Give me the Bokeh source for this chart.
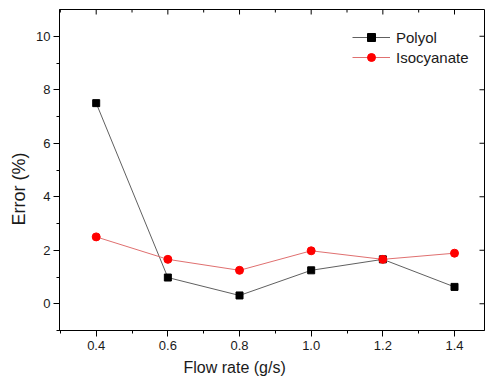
import math
from bokeh.plotting import figure
from bokeh.models import Range1d, FixedTicker, Legend, Title, PrintfTickFormatter
from bokeh.embed import file_html
from bokeh.resources import INLINE

flow_rate = [0.4, 0.6, 0.8, 1.0, 1.2, 1.4]
polyol = [7.5, 0.98, 0.31, 1.25, 1.66, 0.63]
isocyanate = [2.50, 1.66, 1.25, 1.98, 1.66, 1.89]

x_major = [0.4, 0.6, 0.8, 1.0, 1.2, 1.4]
x_minor = [0.3, 0.5, 0.7, 0.9, 1.1, 1.3]
y_major = [0, 2, 4, 6, 8, 10]
y_minor = [-1, 1, 3, 5, 7, 9]

X0, X1 = 0.2976, 1.4837
Y0, Y1 = -1, 11

FONT = "Liberation Sans"
TXT = "#1a1a1a"

p = figure(frame_width=425, frame_height=321, output_backend="svg", toolbar_location=None,
           x_range=Range1d(X0, X1), y_range=Range1d(Y0, Y1),
           min_border_left=59, min_border_top=9, min_border_right=1, min_border_bottom=49)
p.grid.visible = False
p.outline_line_color = "black"
p.outline_line_width = 1
p.background_fill_color = "white"
p.border_fill_color = "white"

p.xaxis.ticker = FixedTicker(ticks=x_major, minor_ticks=x_minor)
p.yaxis.ticker = FixedTicker(ticks=y_major, minor_ticks=y_minor)
p.xaxis.formatter = PrintfTickFormatter(format="%.1f")
p.yaxis.formatter = PrintfTickFormatter(format="%d")

for ax in (p.xaxis[0], p.yaxis[0]):
    ax.axis_line_color = "black"
    ax.major_tick_line_color = "black"
    ax.minor_tick_line_color = "black"
    ax.major_tick_in = 0
    ax.minor_tick_in = 0
    ax.minor_tick_out = 3
    ax.major_label_text_font = FONT
    ax.major_label_text_font_size = "13px"
    ax.major_label_text_color = TXT

p.xaxis.major_tick_out = 6
p.xaxis.major_label_standoff = 4
p.yaxis.major_tick_out = 6
p.yaxis.major_label_standoff = 3

# inward ticks on top and right frame edges
p.ray(x=x_major, y=[Y1] * len(x_major), length=5, length_units="screen",
      angle=-math.pi / 2, line_color="black", line_width=1)
p.ray(x=x_minor, y=[Y1] * len(x_minor), length=3, length_units="screen",
      angle=-math.pi / 2, line_color="black", line_width=1)
p.ray(x=[X1] * len(y_major), y=y_major, length=5, length_units="screen",
      angle=math.pi, line_color="black", line_width=1)

l1 = p.line(flow_rate, polyol, line_color="#606060", line_width=1)
s1 = p.scatter(flow_rate, polyol, marker="square", size=7, fill_color="black", line_color="black")
l2 = p.line(flow_rate, isocyanate, line_color="#e07070", line_width=1)
s2 = p.scatter(flow_rate, isocyanate, marker="circle", size=8, fill_color="#ff0000", line_color="#ff0000")

legend = Legend(items=[("Polyol", [l1, s1]), ("Isocyanate", [l2, s2])],
                location=(293, 263), padding=0, margin=0, spacing=0,
                glyph_width=38, glyph_height=20, label_height=20, label_standoff=6,
                label_text_font=FONT, label_text_font_size="15px", label_text_color=TXT,
                border_line_alpha=0, background_fill_alpha=0)
p.add_layout(legend, "center")

xtitle = Title(text="Flow rate (g/s)", align="left", offset=124, text_font=FONT,
               text_font_size="16px", text_font_style="normal", text_color=TXT,
               standoff=8)
ytitle = Title(text="Error (%)", align="left", offset=105, text_font=FONT,
               text_font_size="18px", text_font_style="normal", text_color=TXT,
               standoff=9)
p.add_layout(xtitle, "below")
p.add_layout(ytitle, "left")

open("out.html", "w").write(file_html(p, INLINE))
